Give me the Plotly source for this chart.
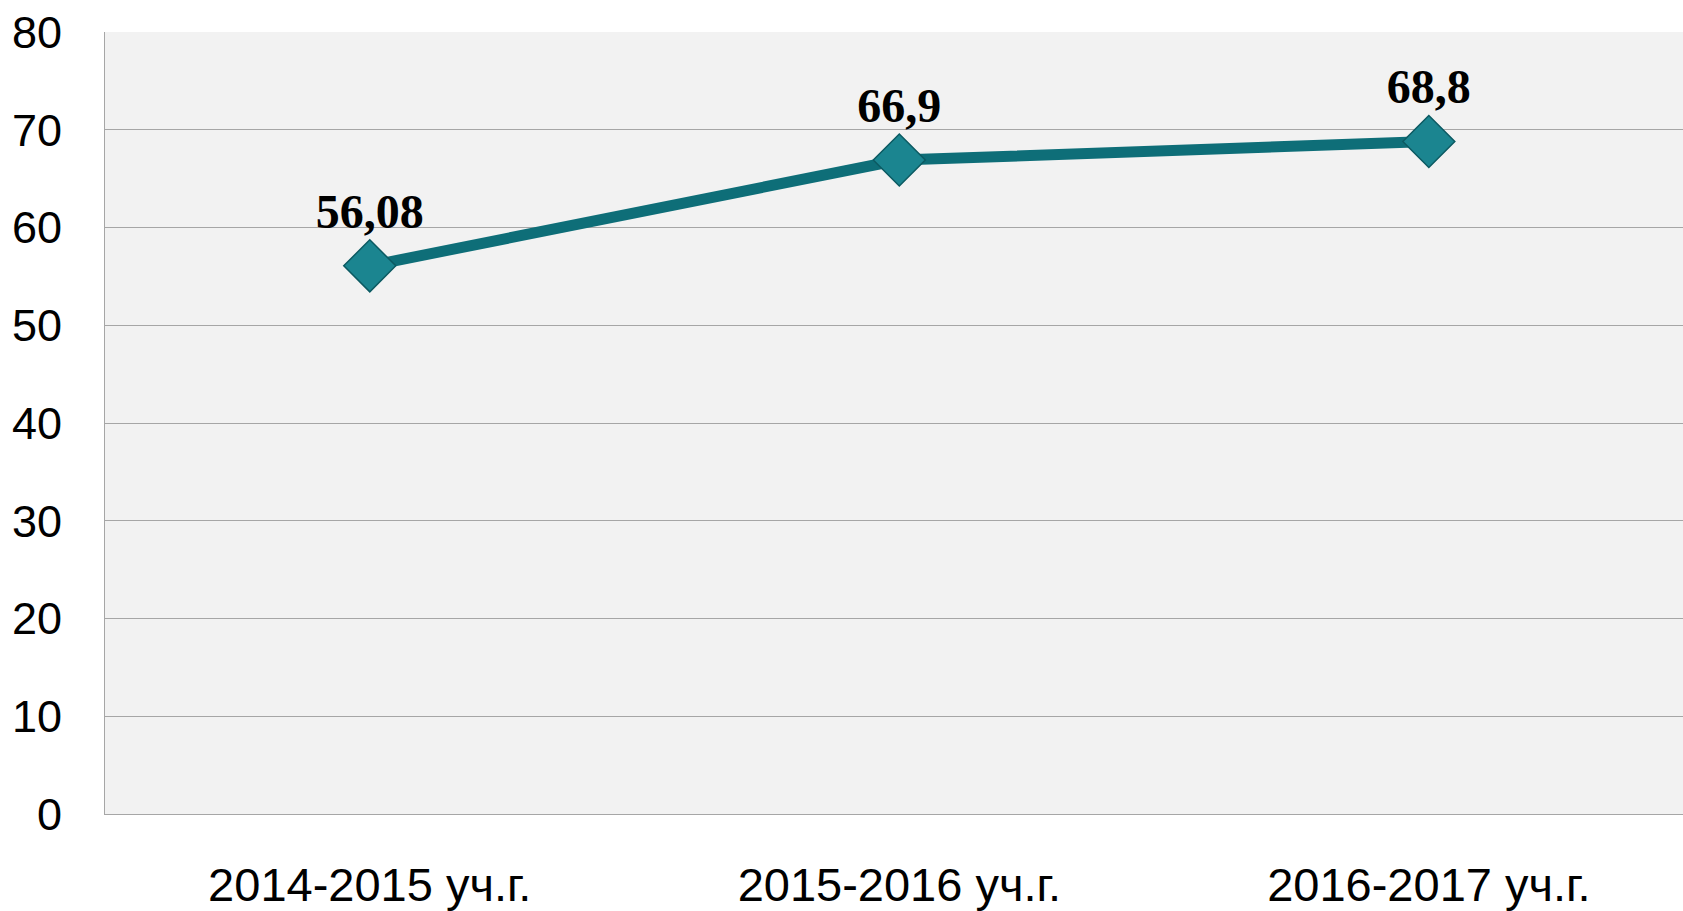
import plotly.graph_objects as go

categories = ["2014-2015 уч.г.", "2015-2016 уч.г.", "2016-2017 уч.г."]
values = [56.08, 66.9, 68.8]
value_labels = ["56,08", "66,9", "68,8"]
y_ticks = [0, 10, 20, 30, 40, 50, 60, 70, 80]

fig = go.Figure()
fig.add_trace(go.Scatter(
    x=[0, 1, 2], y=values,
    mode="lines+markers+text",
    line=dict(color="#0E6E78", width=11),
    marker=dict(symbol="diamond", size=40, color="#1B8590",
                line=dict(color="#0B5A62", width=1.5)),
    text=value_labels,
    textposition="top center",
    textfont=dict(family="Liberation Serif", size=48, color="black", weight="bold"),
    cliponaxis=False,
    showlegend=False,
))

fig.update_layout(
    width=1683, height=911,
    margin=dict(l=105, r=0, t=32, b=95),
    paper_bgcolor="white",
    plot_bgcolor="#F2F2F2",
    font=dict(family="Liberation Sans", color="black"),
    xaxis=dict(
        tickmode="array", tickvals=[0, 1, 2], ticktext=categories,
        range=[-0.5, 2.48], showgrid=False, zeroline=False,
        showline=True, linecolor="#A6A6A6", linewidth=1,
        tickfont=dict(size=47), ticks="", ticklabelstandoff=30,
    ),
    yaxis=dict(
        range=[0, 80], tickvals=y_ticks, showgrid=True,
        gridcolor="#A6A6A6", gridwidth=1, zeroline=False,
        showline=True, linecolor="#A6A6A6", linewidth=1,
        tickfont=dict(size=45), ticks="", ticklabelstandoff=33,
        ticklabeloverflow="allow",
    ),
)

fig.write_html(
    "out.html",
    config={"displayModeBar": False},
    post_script="document.body.style.margin='0';document.body.style.overflow='hidden';",
)
